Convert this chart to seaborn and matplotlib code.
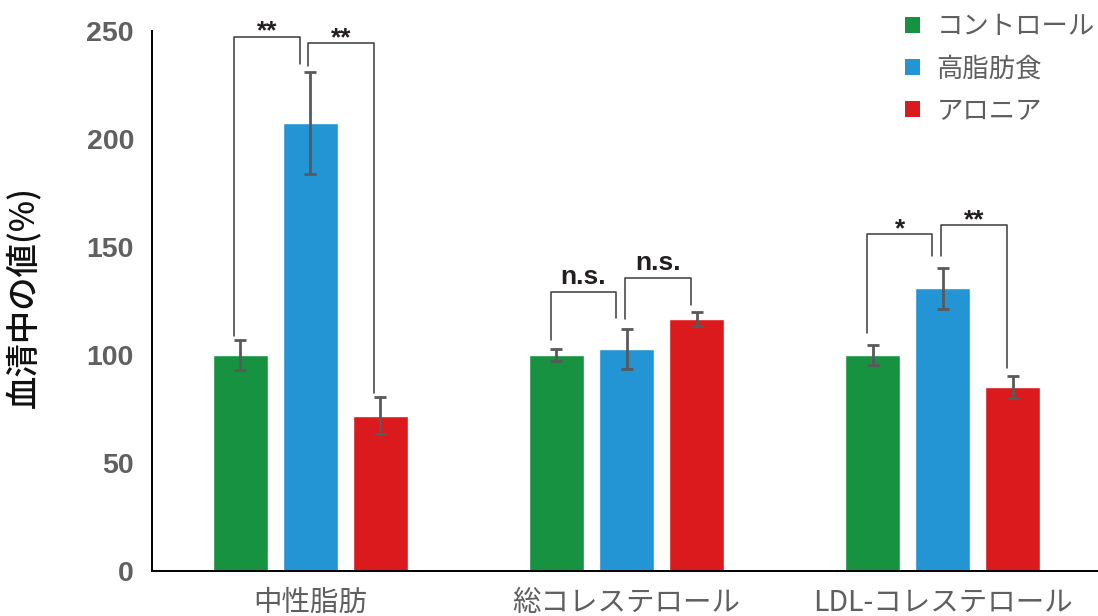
import matplotlib
matplotlib.use("Agg")
import matplotlib.pyplot as plt
from matplotlib.patches import Patch
import pandas as pd
import seaborn as sns

categories = ["中性脂肪", "総コレステロール", "LDL-コレステロール"]
groups = ["コントロール", "高脂肪食", "アロニア"]
control = [100.0, 100.0, 100.0]
control_err = [7.0, 2.8, 4.8]
high_fat = [207.5, 102.8, 131.0]
high_fat_err = [23.6, 9.3, 9.5]
aronia = [71.8, 116.7, 85.2]
aronia_err = [8.6, 3.3, 5.3]
y_ticks = [0, 50, 100, 150, 200, 250]

# significance brackets: category, left group, right group,
# bottom of left leg, bottom of right leg, bracket top, label
bracket_cat = [0, 0, 1, 1, 2, 2]
bracket_left = [0, 1, 0, 1, 0, 1]
bracket_right = [1, 2, 1, 2, 1, 2]
bracket_low_left = [109.0, 234.0, 107.0, 116.7, 110.3, 145.8]
bracket_low_right = [234.7, 82.5, 117.0, 123.0, 145.8, 94.1]
bracket_top = [247.4, 244.3, 129.3, 135.6, 155.9, 160.0]
bracket_label = ["**", "**", "n.s.", "n.s.", "*", "**"]

colors = ["#169241", "#2394d4", "#da1a1d"]
means = [control, high_fat, aronia]
errs = [control_err, high_fat_err, aronia_err]

rows = []
for g, vals in zip(groups, means):
    for c, v in zip(categories, vals):
        rows.append({"category": c, "group": g, "value": v})
df = pd.DataFrame(rows)

sns.set_style("white")
plt.rcParams["font.family"] = ["Noto Sans CJK JP", "DejaVu Sans"]

fig = plt.figure(figsize=(10.98, 6.16), dpi=100)
ax = fig.add_axes([152 / 1098, 45 / 616, 949 / 1098, 540 / 616])

sns.barplot(data=df, x="category", y="value", hue="group", order=categories,
            hue_order=groups, palette=colors, width=0.664, gap=0.213,
            errorbar=None, legend=False, saturation=1, ax=ax)

# bar centres, ordered left to right
bars = sorted(ax.patches, key=lambda p: p.get_x())
centers = [[None] * 3 for _ in range(3)]
for k, b in enumerate(bars):
    j, i = divmod(k, 3)
    centers[j][i] = b.get_x() + b.get_width() / 2

for i in range(3):
    xs = [centers[j][i] for j in range(3)]
    ax.errorbar(xs, means[i], yerr=errs[i], fmt="none", ecolor="#595959",
                elinewidth=2.0, capsize=4.3, capthick=2.0, zorder=3)

# significance brackets
leg_off_left = (-0.018, -0.033)
leg_off_right = (-0.006, -0.018)
for k in range(len(bracket_label)):
    j = bracket_cat[k]
    offs = leg_off_left if bracket_left[k] == 0 else leg_off_right
    x1 = centers[j][bracket_left[k]] + offs[0]
    x2 = centers[j][bracket_right[k]] + offs[1]
    top = bracket_top[k]
    ax.plot([x1, x1, x2, x2], [bracket_low_left[k], top, top, bracket_low_right[k]],
            color="#3a3a3a", lw=1.1, clip_on=False, zorder=4)
    lab = bracket_label[k]
    ty = top + 3.7 if lab == "n.s." else top - 1.0
    ax.text((x1 + x2) / 2, ty, lab, ha="center", va="baseline",
            fontsize=19, fontweight="bold", family="Liberation Sans",
            color="#231f20", clip_on=False)

ax.set_xlim(-0.5, 2.5)
ax.set_ylim(0, 250)
ax.set_yticks(y_ticks)
ax.set_yticklabels([str(t) for t in y_ticks], family="Liberation Sans",
                   fontweight="bold", fontsize=20.5, color="#606060")
ax.set_xticks(range(len(categories)))
ax.set_xticklabels(categories, fontsize=20.5, color="#5f5f5f")
ax.set_xticks([-0.5, 0.5, 1.5, 2.5], minor=True)
ax.tick_params(axis="x", which="major", length=0, pad=12)
ax.tick_params(axis="x", which="minor", length=5, width=1.4, direction="out",
               color="black")
ax.tick_params(axis="y", length=5, width=1.4, direction="out", color="black",
               pad=8)
ax.set_xlabel("")
ax.set_ylabel("")
for s in ["top", "right"]:
    ax.spines[s].set_visible(False)
for s in ["left", "bottom"]:
    ax.spines[s].set_color("black")
    ax.spines[s].set_linewidth(1.4)

fig.text(25 / 1098, 1 - 297 / 616, "血清中の値(%)", rotation=90, ha="center",
         va="center", fontsize=24, fontweight="medium", color="#111111")

handles = [Patch(facecolor=c, edgecolor="none") for c in colors]
fig.legend(handles, groups, loc="upper left", bbox_to_anchor=(905 / 1098, 1 - 13 / 616),
           frameon=False, fontsize=19, handlelength=0.55, handleheight=0.55,
           handletextpad=0.65, labelspacing=0.58, borderpad=0, borderaxespad=0,
           labelcolor="#5f5f5f")

fig.savefig("out.png", dpi=100)
